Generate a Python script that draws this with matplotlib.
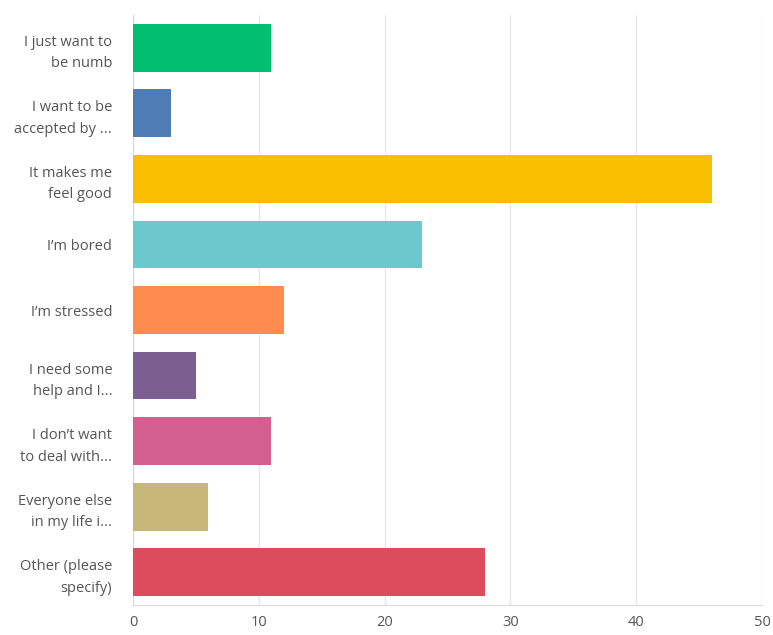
import matplotlib
matplotlib.use("Agg")
import matplotlib.pyplot as plt

categories = ["I just want to\nbe numb", "I want to be\naccepted by ...", "It makes me\nfeel good",
              "I\u2019m bored", "I\u2019m stressed", "I need some\nhelp and I...", "I don\u2019t want\nto deal with...",
              "Everyone else\nin my life i...", "Other (please\nspecify)"]
values = [11, 3, 46, 23, 12, 5, 11, 6, 28]
colors = ["#00BF6F", "#507CB6", "#F9BE00", "#6BC8CD", "#FF8B4F", "#7D5E90", "#D25F90", "#C7B879", "#DB4D5C"]
xticks = [0, 10, 20, 30, 40, 50]

plt.rcParams['font.family'] = ['Open Sans', 'DejaVu Sans']
fig = plt.figure(figsize=(7.73, 6.35), dpi=100)
ax = fig.add_axes([133/773, 1-605/635, (762-133)/773, 590/635])
y = list(range(len(categories)))
ax.barh(y, values, height=0.73, color=colors, zorder=3)
ax.set_ylim(len(categories)-0.5, -0.5)
ax.set_xlim(0, 50)
ax.set_xticks(xticks)
ax.set_yticks(y)
ax.set_yticklabels(categories, fontsize=10.5, color="#555555", linespacing=1.6)
ax.tick_params(axis='x', labelsize=10.5, labelcolor="#555555", length=0, pad=7)
ax.tick_params(axis='y', length=0, pad=15)
ax.grid(axis='x', color="#e6e6e6", linewidth=1, zorder=0)
for s in ['top', 'right']:
    ax.spines[s].set_visible(False)
ax.spines['left'].set_color("#d9d9d9")
ax.spines['bottom'].set_color("#d9d9d9")
fig.savefig("out.png", dpi=100)
